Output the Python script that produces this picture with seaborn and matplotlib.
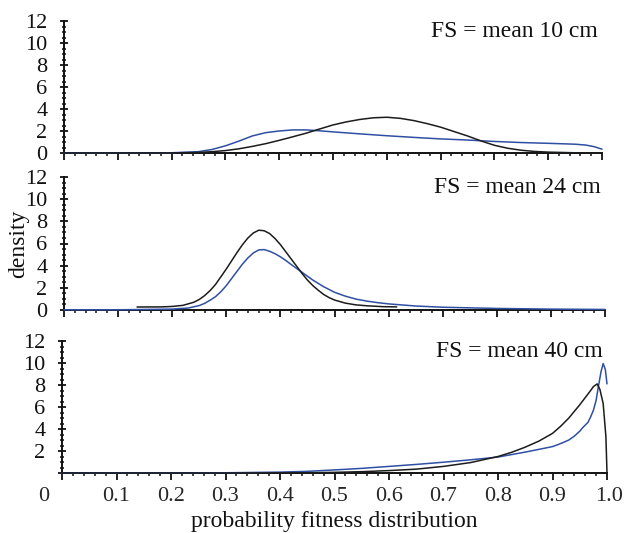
import matplotlib
matplotlib.use("Agg")
import matplotlib.pyplot as plt
import matplotlib.transforms as mtransforms
from matplotlib.ticker import MultipleLocator
import seaborn as sns
import pandas as pd

sns.set_theme(style="ticks")
plt.rcParams["font.family"] = ["Liberation Serif", "DejaVu Serif"]

# ---------------- data ----------------
panel_titles = ["FS = mean 10 cm", "FS = mean 24 cm", "FS = mean 40 cm"]
x_tick_labels = ["0", "0.1", "0.2", "0.3", "0.4", "0.5", "0.6", "0.7", "0.8", "0.9", "1.0"]

# panel 1 (mean 10 cm)
p1_black_x = [0.0, 0.2, 0.25, 0.275, 0.3, 0.325, 0.35, 0.375, 0.4, 0.425, 0.45, 0.475, 0.5, 0.525, 0.55,
              0.575, 0.6, 0.625, 0.65, 0.675, 0.7, 0.725, 0.75, 0.775, 0.8, 0.825, 0.85, 0.875, 0.9, 0.95, 1.0]
p1_black_y = [0.0, 0.01, 0.05, 0.12, 0.22, 0.38, 0.6, 0.85, 1.15, 1.47, 1.8, 2.18, 2.55, 2.83, 3.05,
              3.2, 3.25, 3.15, 2.95, 2.67, 2.35, 1.95, 1.55, 1.1, 0.7, 0.43, 0.25, 0.14, 0.08, 0.02, 0.0]
p1_blue_x = [0.0, 0.2, 0.25, 0.275, 0.3, 0.325, 0.35, 0.375, 0.4, 0.425, 0.45, 0.475, 0.5, 0.55, 0.6,
             0.65, 0.7, 0.75, 0.8, 0.85, 0.9, 0.95, 0.97, 0.985, 1.0]
p1_blue_y = [0.0, 0.02, 0.12, 0.32, 0.65, 1.08, 1.55, 1.85, 2.0, 2.1, 2.1, 2.02, 1.92, 1.74, 1.57,
             1.42, 1.28, 1.18, 1.05, 0.95, 0.88, 0.8, 0.72, 0.58, 0.35]

# panel 2 (mean 24 cm)
p2_black_x = [0.135, 0.18, 0.20, 0.22, 0.24, 0.25, 0.26, 0.27, 0.28, 0.29, 0.30, 0.31, 0.32, 0.33, 0.34,
              0.35, 0.36, 0.37, 0.38, 0.39, 0.40, 0.41, 0.42, 0.43, 0.44, 0.45, 0.46, 0.47, 0.48, 0.49,
              0.50, 0.52, 0.54, 0.56, 0.59, 0.615]
p2_black_y = [0.27, 0.28, 0.32, 0.42, 0.7, 0.95, 1.3, 1.75, 2.3, 3.0, 3.7, 4.45, 5.2, 5.9, 6.5,
              6.95, 7.2, 7.15, 6.9, 6.45, 5.9, 5.25, 4.6, 3.95, 3.3, 2.7, 2.2, 1.78, 1.4, 1.12,
              0.9, 0.62, 0.46, 0.38, 0.3, 0.28]
p2_blue_x = [0.0, 0.1, 0.2, 0.23, 0.25, 0.26, 0.27, 0.28, 0.29, 0.30, 0.31, 0.32, 0.33, 0.34, 0.35,
             0.36, 0.37, 0.38, 0.39, 0.40, 0.41, 0.42, 0.43, 0.44, 0.45, 0.46, 0.47, 0.48, 0.49, 0.50,
             0.52, 0.54, 0.56, 0.58, 0.6, 0.65, 0.7, 0.8, 0.9, 1.0]
p2_blue_y = [0.02, 0.02, 0.08, 0.18, 0.4, 0.6, 0.88, 1.2, 1.65, 2.2, 2.85, 3.5, 4.15, 4.7, 5.15,
             5.42, 5.45, 5.3, 5.08, 4.8, 4.47, 4.1, 3.75, 3.4, 3.05, 2.7, 2.4, 2.1, 1.85, 1.6,
             1.25, 0.98, 0.8, 0.66, 0.55, 0.36, 0.25, 0.14, 0.08, 0.05]

# panel 3 (mean 40 cm)
p3_black_x = [0.0, 0.3, 0.45, 0.5, 0.55, 0.6, 0.65, 0.7, 0.75, 0.8, 0.825, 0.85, 0.875, 0.9, 0.915,
              0.93, 0.94, 0.95, 0.96, 0.97, 0.975, 0.982, 0.987, 0.993, 0.998, 1.0]
p3_black_y = [0.0, 0.0, 0.02, 0.06, 0.12, 0.22, 0.35, 0.6, 0.95, 1.5, 1.88, 2.35, 2.9, 3.6, 4.25,
              5.0, 5.6, 6.2, 6.85, 7.5, 7.85, 8.1, 7.6, 6.3, 3.3, 0.0]
p3_blue_x = [0.0, 0.3, 0.4, 0.45, 0.5, 0.55, 0.6, 0.65, 0.7, 0.75, 0.8, 0.85, 0.9, 0.91, 0.92, 0.93, 0.94,
             0.95, 0.955, 0.965, 0.97, 0.975, 0.98, 0.984, 0.989, 0.993, 0.997, 1.0]
p3_blue_y = [0.0, 0.02, 0.08, 0.15, 0.28, 0.42, 0.6, 0.78, 0.98, 1.2, 1.45, 1.9, 2.4, 2.58, 2.78, 3.0, 3.35,
             3.8, 4.1, 4.6, 5.1, 5.7, 6.6, 7.8, 9.2, 9.95, 9.4, 8.1]

panels = [
    (p1_black_x, p1_black_y, p1_blue_x, p1_blue_y),
    (p2_black_x, p2_black_y, p2_blue_x, p2_blue_y),
    (p3_black_x, p3_black_y, p3_blue_x, p3_blue_y),
]

BLACK = "#1c1c1c"
BLUE = "#2f4fa3"

# ---------------- figure ----------------
fig = plt.figure(figsize=(6.25, 5.33), dpi=100)
W, H = 625, 533
# (left px, right px, y0 px, y12 px)
boxes = [(64, 602, 153, 21), (64, 605, 310, 177), (62, 607, 473, 341)]

axes = []
for i, ((bx, by, rx, ry), (l, r, y0, y12)) in enumerate(zip(panels, boxes)):
    ax = fig.add_axes([l / W, (H - y0) / H, (r - l) / W, (y0 - y12) / H])
    axes.append(ax)
    df_b = pd.DataFrame({"x": bx, "y": by})
    df_r = pd.DataFrame({"x": rx, "y": ry})
    sns.lineplot(data=df_r, x="x", y="y", ax=ax, color=BLUE, lw=1.1,
                 sort=False, estimator=None, clip_on=False, zorder=3)
    sns.lineplot(data=df_b, x="x", y="y", ax=ax, color=BLACK, lw=1.1,
                 sort=False, estimator=None, clip_on=False, zorder=4)
    ax.set_xlim(0, 1)
    ax.set_ylim(0, 12)
    sns.despine(ax=ax)
    for s in ["left", "bottom"]:
        ax.spines[s].set_linewidth(1.4)
        ax.spines[s].set_color("#111111")
    ax.xaxis.set_major_locator(MultipleLocator(0.1))
    ax.xaxis.set_minor_locator(MultipleLocator(0.02))
    ax.yaxis.set_major_locator(MultipleLocator(2))
    ax.yaxis.set_minor_locator(MultipleLocator(0.5))
    ax.tick_params(axis="x", which="major", direction="out", length=5, width=1.3,
                   color="#111111", labelsize=16, pad=5)
    ax.tick_params(axis="x", which="minor", direction="out", length=2.5, width=1.1,
                   color="#111111")
    ax.tick_params(axis="y", which="major", direction="inout", length=6, width=1.3,
                   color="#111111", labelsize=16, pad=9)
    ax.tick_params(axis="y", which="minor", direction="inout", length=3, width=1.1,
                   color="#111111")
    ax.set_xlabel("")
    ax.set_ylabel("")
    ax.set_yticks([0, 2, 4, 6, 8, 10, 12])
    if i < 2:
        ax.set_yticklabels(["0", "2", "4", "6", "8", "10", "12"])
        ax.set_xticklabels([])
    else:
        ax.set_yticklabels(["", "2", "4", "6", "8", "10", "12"])
        ax.set_xticks([0, 0.1, 0.2, 0.3, 0.4, 0.5, 0.6, 0.7, 0.8, 0.9, 1.0])
        ax.set_xticklabels(x_tick_labels)
    for t in ax.get_yticklabels():
        t.set_color("#111111")
    ax.text(0.993, 1.0, panel_titles[i], transform=ax.transAxes,
            ha="right", va="top", fontsize=17, color="#111111")

# shift the first and last x tick labels as in the reference
labs = axes[2].get_xticklabels()
labs[0].set_transform(labs[0].get_transform() +
                      mtransforms.ScaledTranslation(-18 / 100, 0, fig.dpi_scale_trans))
labs[-1].set_transform(labs[-1].get_transform() +
                       mtransforms.ScaledTranslation(2 / 100, 0, fig.dpi_scale_trans))

axes[2].set_xlabel("probability fitness distribution", fontsize=17, labelpad=4, color="#111111")
axes[1].set_ylabel("density", fontsize=17, color="#111111")
axes[1].yaxis.set_label_coords(-0.064, 0.5)

fig.savefig("out.png", dpi=100)
